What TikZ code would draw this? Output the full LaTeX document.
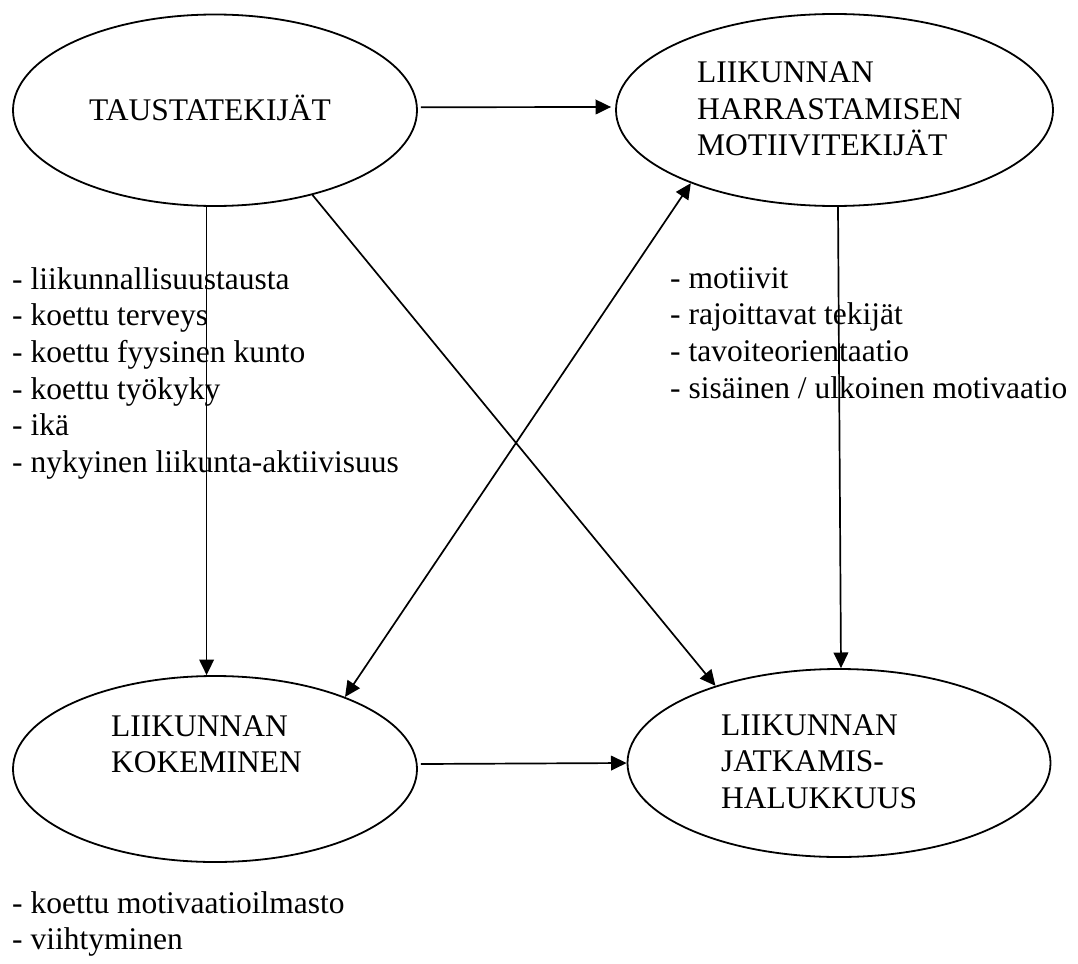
\documentclass[tikz,border=0pt]{standalone}
\usepackage{fontspec}
\setmainfont{Liberation Serif}
\usetikzlibrary{arrows.meta,shapes.geometric}
\newcommand{\tb}[1]{\begin{tabular}[t]{@{}l@{}}#1\end{tabular}}
\begin{document}
\begin{tikzpicture}[x=1pt,y=-1pt,
  ell/.style={draw, ellipse, line width=1.8pt, inner sep=0pt},
  txt/.style={anchor=base west, inner sep=0pt, font=\fontsize{31.5}{36.7}\selectfont},
  arr/.style={line width=1.7pt, -{Triangle[length=15.6pt,width=14.7pt]}},
  darr/.style={line width=1.7pt, {Triangle[length=15.6pt,width=14.7pt]}-{Triangle[length=15.6pt,width=14.7pt]}}]
\useasboundingbox (0,0) rectangle (1078,963);

% ellipses
\node[ell, minimum width=404pt, minimum height=191.5pt] (e1) at (215,110.25) {};
\node[ell, minimum width=437pt, minimum height=192pt] (e2) at (834.5,110) {};
\node[ell, minimum width=404pt, minimum height=186pt] (e3) at (215,769) {};
\node[ell, minimum width=423pt, minimum height=188pt] (e4) at (839,763) {};

% labels
\node[txt] (l1) at (89,121) {\tb{TAUSTATEKIJÄT}};
\node[txt] (l2) at (697,82.6) {\tb{LIIKUNNAN\\HARRASTAMISEN\\MOTIIVITEKIJÄT}};
\node[txt] (l3) at (111,736) {\tb{LIIKUNNAN\\KOKEMINEN}};
\node[txt] (l4) at (721,735) {\tb{LIIKUNNAN\\JATKAMIS-\\HALUKKUUS}};

% lists
\node[txt] (list1) at (12,289) {\tb{- liikunnallisuustausta\\- koettu terveys\\- koettu fyysinen kunto\\- koettu työkyky\\- ikä\\- nykyinen liikunta-aktiivisuus}};
\node[txt] (list2) at (670,288) {\tb{- motiivit\\- rajoittavat tekijät\\- tavoiteorientaatio\\- sisäinen / ulkoinen motivaatio}};
\node[txt] (list3) at (12,913) {\tb{- koettu motivaatioilmasto\\- viihtyminen}};

% connectors
\draw[arr] ([shift={(3pt,3pt)}]e1.east) -- ([shift={(-4pt,3pt)}]e2.west);
\draw[arr] ([xshift=-8.4pt]e1.south) -- ([xshift=-8.4pt]e3.north);
\draw[arr] (e1.-41) -- (e4.148);
\draw[darr] (e3.29) -- (e2.207);
\draw[arr] ([xshift=3.5pt]e2.south) -- ([xshift=2pt]e4.north);
\draw[arr] ([shift={(3pt,5pt)}]e3.east) -- (e4.west);
\end{tikzpicture}
\end{document}
